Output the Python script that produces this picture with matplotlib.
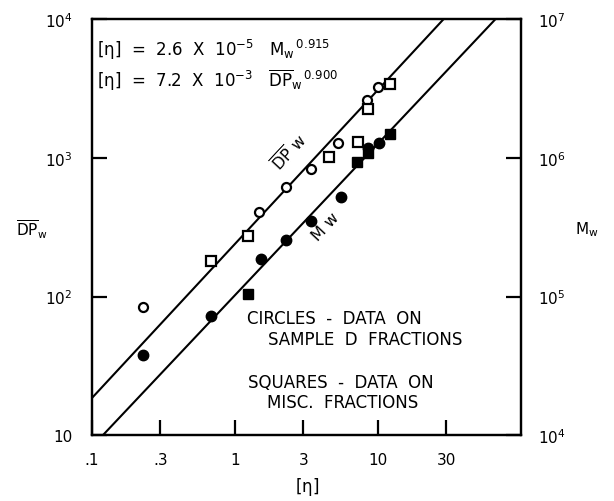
import numpy as np
import matplotlib
matplotlib.use("Agg")
import matplotlib.pyplot as plt

# ---- data ----
# open circles: DP_w of sample D fractions
eta_circ_open = [0.227, 1.46, 2.25, 3.38, 5.24, 8.39, 10.0]
dp_circ_open = [84, 405, 611, 837, 1288, 2600, 3215]
# open squares: DP_w of misc. fractions
eta_sq_open = [0.673, 1.23, 4.50, 7.18, 8.55, 12.1]
dp_sq_open = [181, 274, 1021, 1303, 2265, 3397]
# filled circles: M_w of sample D fractions
eta_circ_fill = [0.227, 0.673, 1.51, 2.25, 3.38, 5.51, 8.55, 10.2]
mw_circ_fill = [3.78e4, 7.2e4, 1.86e5, 2.55e5, 3.51e5, 5.22e5, 1.17e6, 1.27e6]
# filled squares: M_w of misc. fractions
eta_sq_fill = [1.22, 7.08, 8.55, 12.1]
mw_sq_fill = [1.05e5, 9.25e5, 1.08e6, 1.48e6]

# fitted relations printed on the chart
k_mw, a_mw = 2.6e-5, 0.915
k_dp, a_dp = 7.2e-3, 0.900
eta_fit = np.array([0.1, 100.0])

xticks = [0.1, 0.3, 1, 3, 10, 30]
xticklabels = ['.1', '.3', '1', '3', '10', '30']
yticks_dp = [10, 100, 1000, 10000]
yticklabels_dp = ['10', '$10^2$', '$10^3$', '$10^4$']
yticks_mw = [1e4, 1e5, 1e6, 1e7]
yticklabels_mw = ['$10^4$', '$10^5$', '$10^6$', '$10^7$']

plt.rcParams.update({'font.family': 'DejaVu Sans', 'font.size': 11,
                     'mathtext.default': 'regular'})

fig = plt.figure(figsize=(6.14, 5.02), dpi=100)
ax = fig.add_axes([0.150, 0.131, 0.699, 0.829])
ax2 = ax.twinx()

for a in (ax, ax2):
    a.set_xscale('log')
    a.set_yscale('log')
    a.set_xlim(0.1, 100)
    for s in a.spines.values():
        s.set_linewidth(1.6)
ax.set_ylim(10, 1e4)
ax2.set_ylim(1e4, 1e7)

# fit lines
ax.plot(eta_fit, (eta_fit / k_dp) ** (1 / a_dp), color='black', lw=1.5)
ax2.plot(eta_fit, (eta_fit / k_mw) ** (1 / a_mw), color='black', lw=1.5)

# points
ax.plot(eta_circ_open, dp_circ_open, 'o', ms=6.5, mfc='white', mec='black', mew=1.6)
ax.plot(eta_sq_open, dp_sq_open, 's', ms=6.5, mfc='white', mec='black', mew=1.6)
ax2.plot(eta_circ_fill, mw_circ_fill, 'o', ms=7.5, color='black')
ax2.plot(eta_sq_fill, mw_sq_fill, 's', ms=7, color='black')

# ticks
ax.set_xticks(xticks)
ax.set_xticklabels(xticklabels)
ax.set_yticks(yticks_dp)
ax.set_yticklabels(yticklabels_dp)
ax2.set_yticks(yticks_mw)
ax2.set_yticklabels(yticklabels_mw)
for a in (ax, ax2):
    a.minorticks_off()
ax.tick_params(axis='x', direction='in', length=11, width=1.6, pad=12, labelsize=11)
ax.tick_params(axis='y', direction='in', length=11, width=1.6, pad=14, labelsize=11)
ax2.tick_params(axis='y', direction='in', length=11, width=1.6, pad=12, labelsize=11)

ax.set_xlabel(r'[$\eta$]', fontsize=12, labelpad=6)
fig.text(0.026, 0.542, r'$\overline{DP}_w$', fontsize=11, ha='left', va='center')
fig.text(0.975, 0.542, r'$M_w$', fontsize=11, ha='right', va='center')

# equations
ax.text(0.012, 0.928, r'[$\eta$]  =  2.6  X  10$^{-5}$   M$_w$$^{\,0.915}$',
        transform=ax.transAxes, fontsize=12, va='center')
ax.text(0.012, 0.856, r'[$\eta$]  =  7.2  X  10$^{-3}$   $\overline{DP}_w$$^{\,0.900}$',
        transform=ax.transAxes, fontsize=12, va='center')

# line labels
ax.text(2.4, 1100, r'$\overline{DP}$ w', rotation=47, fontsize=11.5,
        ha='center', va='center')
ax.text(4.3, 320, 'M w', rotation=47, fontsize=11.5, ha='center', va='center')

# legend notes
ax.text(0.361, 0.281, 'CIRCLES  -  DATA  ON', transform=ax.transAxes, fontsize=12, va='center')
ax.text(0.410, 0.231, 'SAMPLE  D  FRACTIONS', transform=ax.transAxes, fontsize=12, va='center')
ax.text(0.364, 0.127, 'SQUARES  -  DATA  ON', transform=ax.transAxes, fontsize=12, va='center')
ax.text(0.408, 0.079, 'MISC.  FRACTIONS', transform=ax.transAxes, fontsize=12, va='center')

fig.savefig('out.png', dpi=100)
